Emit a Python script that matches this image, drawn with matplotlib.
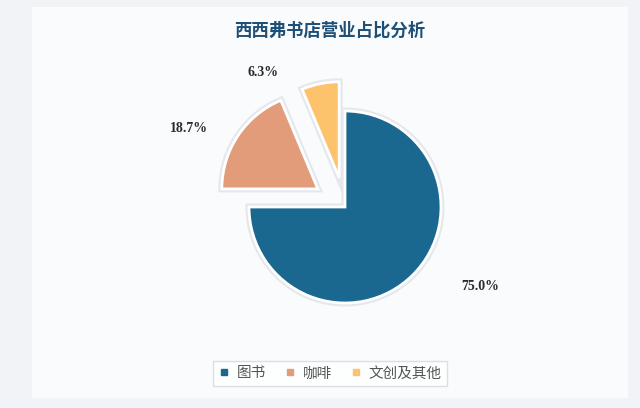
import matplotlib
matplotlib.use("Agg")
import matplotlib.pyplot as plt
import matplotlib.patheffects as pe
from matplotlib.patches import Rectangle
from matplotlib.lines import Line2D

# data
categories = ['图书', '咖啡', '文创及其他']
shares = [75.0, 18.7, 6.3]
colors = ['#1a6890', '#e29c79', '#fcc36c']
explode_frac = [0, 0.34, 0.31]

plt.rcParams['font.family'] = ['Noto Sans CJK SC', 'DejaVu Sans']

W, H = 640, 408
R = 96
fig = plt.figure(figsize=(W / 100, H / 100), dpi=100)
fig.patch.set_facecolor('#f1f3f6')

# white card behind the chart
bg = fig.add_axes([0, 0, 1, 1], zorder=0)
bg.set_xlim(0, W)
bg.set_ylim(0, H)
bg.axis('off')
bg.add_patch(Rectangle((32, H - 398), 628 - 32, 398 - 7,
                       facecolor='#fafbfc', edgecolor='none'))

ax = fig.add_axes([0, 0, 1, 1], zorder=1)
ax.patch.set_alpha(0)

# matplotlib's explode is in data units, so scale by the radius
wedges, texts, autotexts = ax.pie(
    shares, colors=colors, explode=[e * R for e in explode_frac],
    startangle=90, counterclock=False,
    center=(345, H - 207), radius=R, autopct='%.1f%%', frame=True,
    wedgeprops=dict(edgecolor='white', linewidth=2))
ax.set_xlim(0, W)
ax.set_ylim(0, H)
ax.axis('off')

for w in wedges:
    w.set_path_effects([pe.Stroke(linewidth=5, foreground='#e4e8ed'), pe.Normal()])

# label positions (pixel coords, from top)
label_pos = [(480, 287), (189, 128), (263, 72)]
for t, (x, y) in zip(autotexts, label_pos):
    t.set_position((x, H - y))
    t.set_ha('center')
    t.set_va('center')
    t.set_fontsize(10)
    t.set_fontweight('bold')
    t.set_color('#2b2b2b')
    t.set_family(['Liberation Serif', 'DejaVu Sans'])

fig.text(330 / W, 1 - 31 / H, '西西弗书店营业占比分析', ha='center', va='center',
         fontsize=12.5, fontweight='bold', color='#1d4f77')

handles = [Line2D([0], [0], marker='s', linestyle='none', markersize=5,
                  markerfacecolor=c, markeredgecolor=c) for c in colors]
leg = fig.legend(handles, categories, loc='center', ncol=3,
                 bbox_to_anchor=(330 / W, 1 - 373.5 / H), frameon=True,
                 fancybox=False, fontsize=10.5, handlelength=0.8,
                 handletextpad=0.5, columnspacing=1.2, borderpad=0.35,
                 labelcolor='#555555')
leg.get_frame().set_edgecolor('#d3d7dc')
leg.get_frame().set_facecolor('white')
leg.get_frame().set_linewidth(1)

fig.savefig('out.png', dpi=100, facecolor=fig.get_facecolor())
